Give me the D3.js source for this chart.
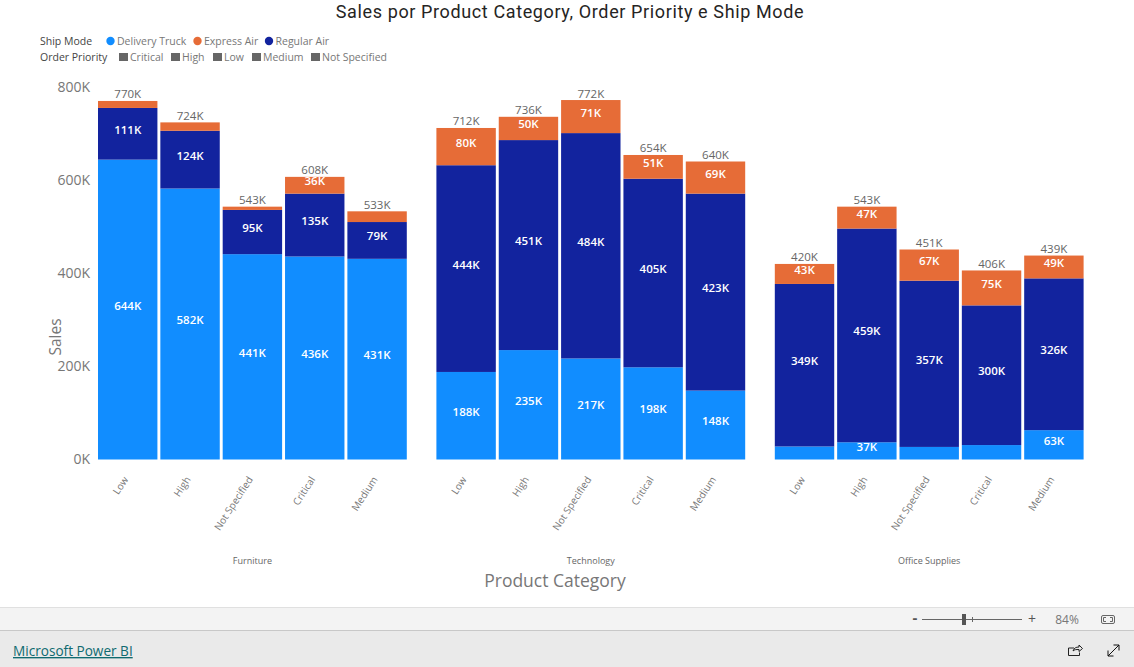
<!DOCTYPE html>
<html><head><meta charset="utf-8">
<script src="https://cdnjs.cloudflare.com/ajax/libs/d3/7.8.5/d3.min.js"></script>
<style>html,body{margin:0;padding:0;background:#fff;overflow:hidden}svg{display:block}text{font-family:"Open Sans","Noto Sans",sans-serif}</style>
</head><body><svg id="c" width="1134" height="667"></svg>
<script>
const categories = ["Furniture", "Technology", "Office Supplies"];
const priorities = ["Low", "High", "Not Specified", "Critical", "Medium"];
const shipModes = ["Delivery Truck", "Regular Air", "Express Air"];
const legendShipModes = ["Delivery Truck", "Express Air", "Regular Air"];
const legendPriorities = ["Critical", "High", "Low", "Medium", "Not Specified"];
const deliveryTruck = [644, 582, 441, 436, 431, 188, 235, 217, 198, 148, 28, 37, 27, 31, 63];
const regularAir = [111, 124, 95, 135, 79, 444, 451, 484, 405, 423, 349, 459, 357, 300, 326];
const expressAir = [15, 18, 7, 36, 23, 80, 50, 71, 51, 69, 43, 47, 67, 75, 49];
const totals = [770, 724, 543, 608, 533, 712, 736, 772, 654, 640, 420, 543, 451, 406, 439];
const yTicks = [0, 200, 400, 600, 800];
const colors = {"Delivery Truck": "#118dff", "Express Air": "#e66c37", "Regular Air": "#12239e"};
const minLabel = 32;

const svg = d3.select("#c");
const rows = [];
categories.forEach((c, i) => priorities.forEach((p, j) => {
  const k = i * priorities.length + j;
  rows.push({category: c, priority: p, "Delivery Truck": deliveryTruck[k], "Regular Air": regularAir[k], "Express Air": expressAir[k], total: totals[k]});
}));

const y = d3.scaleLinear().domain([0, 800]).range([459.5, 87]);
const x0 = d3.scaleBand().domain(categories).range([98, 1083.6]).paddingInner(0.0875);
const x1 = d3.scaleBand().domain(priorities).range([0, x0.bandwidth()]).paddingInner(0.047);
const xPos = d => x0(d.category) + x1(d.priority);

// title
svg.append("text").attr("x", 570).attr("y", 18).attr("text-anchor", "middle")
  .attr("fill", "#252423").style("font-family", "Roboto,sans-serif").style("font-size", "18px").style("letter-spacing", "0.62px")
  .text("Sales por Product Category, Order Priority e Ship Mode");

// legend
const legendFont = "10.5px";
svg.append("text").attr("x", 40).attr("y", 45).attr("fill", "#444").style("font-size", legendFont).text("Ship Mode");
svg.append("text").attr("x", 40).attr("y", 61).attr("fill", "#444").style("font-size", legendFont).text("Order Priority");
const shipX = {"Delivery Truck": 110.5, "Express Air": 197.5, "Regular Air": 269};
legendShipModes.forEach(m => {
  svg.append("circle").attr("cx", shipX[m]).attr("cy", 41).attr("r", 4.2).attr("fill", colors[m]);
  svg.append("text").attr("x", shipX[m] + 6.5).attr("y", 45).attr("fill", "#777").style("font-size", legendFont).text(m);
});
const prioX = {"Critical": 119, "High": 171, "Low": 213, "Medium": 252, "Not Specified": 311};
legendPriorities.forEach(p => {
  svg.append("rect").attr("x", prioX[p]).attr("y", 53).attr("width", 9).attr("height", 8).attr("fill", "#666");
  svg.append("text").attr("x", prioX[p] + 11).attr("y", 61).attr("fill", "#777").style("font-size", legendFont).text(p);
});

// y axis
const yAxis = svg.append("g").attr("transform", "translate(90,0)")
  .call(d3.axisLeft(y).tickValues(yTicks).tickFormat(d => d + "K").tickSize(0).tickPadding(0));
yAxis.select(".domain").remove();
yAxis.selectAll("text").attr("fill", "#777").style("font-size", "14px");
svg.append("text").attr("transform", "translate(61,337) rotate(-90)").attr("text-anchor", "middle")
  .attr("fill", "#777").style("font-size", "15.5px").text("Sales");

// stacks
const series = d3.stack().keys(shipModes)(rows);
series.forEach(s => {
  const g = svg.append("g");
  g.selectAll("rect").data(s).join("rect")
    .attr("x", d => xPos(d.data)).attr("width", x1.bandwidth())
    .attr("y", d => y(d[1])).attr("height", d => y(d[0]) - y(d[1]))
    .attr("fill", colors[s.key]);
  g.selectAll("text").data(s.filter(d => d[1] - d[0] >= minLabel)).join("text")
    .attr("x", d => xPos(d.data) + x1.bandwidth() / 2)
    .attr("y", d => (y(d[0]) + y(d[1])) / 2)
    .attr("text-anchor", "middle").attr("fill", "#fff")
    .style("font-size", "11.5px").style("font-weight", 600)
    .text(d => (d[1] - d[0]) + "K");
});

// totals
svg.append("g").selectAll("text").data(rows).join("text")
  .attr("x", d => xPos(d) + x1.bandwidth() / 2)
  .attr("y", d => y(d.total) - 2.5)
  .attr("text-anchor", "middle").attr("fill", "#666").style("font-size", "11.5px")
  .text(d => d.total + "K");

// x tick labels
svg.append("g").selectAll("text").data(rows).join("text")
  .attr("transform", d => `translate(${xPos(d) + x1.bandwidth() / 2 - 2},477.5) rotate(-57)`)
  .attr("text-anchor", "end").attr("dy", "0.35em").attr("fill", "#777").style("font-size", "10px")
  .text(d => d.priority);

// category labels
svg.append("g").selectAll("text").data(categories).join("text")
  .attr("x", d => x0(d) + x0.bandwidth() / 2).attr("y", 563.5)
  .attr("text-anchor", "middle").attr("fill", "#666").style("font-size", "9px").text(d => d);

svg.append("text").attr("x", 555).attr("y", 587).attr("text-anchor", "middle")
  .attr("fill", "#777").style("font-size", "17.5px").text("Product Category");

// Power BI footer
svg.append("rect").attr("x", 0).attr("y", 607).attr("width", 1134).attr("height", 23).attr("fill", "#f3f3f3");
svg.append("rect").attr("x", 0).attr("y", 630).attr("width", 1134).attr("height", 37).attr("fill", "#eaeaea");
svg.append("line").attr("x1", 0).attr("x2", 1134).attr("y1", 607.5).attr("y2", 607.5).attr("stroke", "#e0e0e0");
svg.append("line").attr("x1", 0).attr("x2", 1134).attr("y1", 630.5).attr("y2", 630.5).attr("stroke", "#c8c8c8");
svg.append("text").attr("x", 13).attr("y", 656).attr("fill", "#0f6a70").style("font-size", "13.6px").style("text-decoration", "underline").text("Microsoft Power BI");
svg.append("text").attr("x", 915).attr("y", 623).attr("text-anchor", "middle").attr("fill", "#555").style("font-size", "15px").style("font-weight", 700).text("-");
svg.append("line").attr("x1", 922).attr("x2", 1022).attr("y1", 619.5).attr("y2", 619.5).attr("stroke", "#666");
svg.append("line").attr("x1", 972.5).attr("x2", 972.5).attr("y1", 617).attr("y2", 622).attr("stroke", "#666");
svg.append("rect").attr("x", 962).attr("y", 614).attr("width", 4).attr("height", 11).attr("fill", "#555");
svg.append("text").attr("x", 1032).attr("y", 624).attr("text-anchor", "middle").attr("fill", "#555").style("font-size", "14px").text("+");
svg.append("text").attr("x", 1067).attr("y", 623.5).attr("text-anchor", "middle").attr("fill", "#777").style("font-size", "12px").text("84%");
svg.append("rect").attr("x", 1101.5).attr("y", 615.5).attr("width", 13).attr("height", 8).attr("rx", 1.5).attr("fill", "none").attr("stroke", "#666");
svg.append("path").attr("d", "M1106 617.5h-2.5v4h2.5M1110 617.5h2.5v4h-2.5").attr("fill", "none").attr("stroke", "#666");
svg.append("path").attr("d", "M1074 648h-5.5v7.5h11v-3M1073 651c1-3 3-4 6-4v-2l3.5 3.5-3.5 3v-2c-3 0-4.500 0-6 1.500z").attr("fill", "none").attr("stroke", "#222");
svg.append("path").attr("d", "M1108 656l11-11M1113.500 645h5.500v5.500M1108 650.500v5.500h5.500").attr("fill", "none").attr("stroke", "#111");
</script></body></html>
